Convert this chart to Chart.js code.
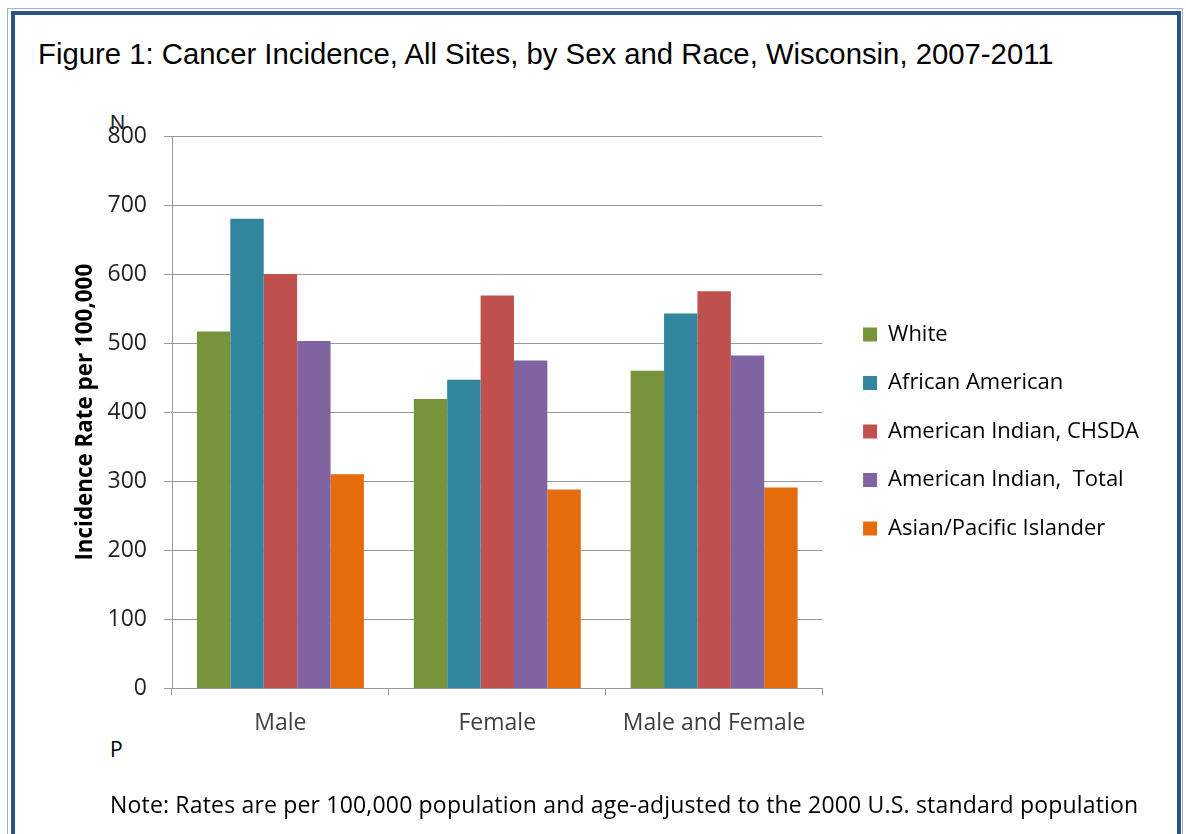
<!DOCTYPE html>
<html>
<head>
<meta charset="utf-8">
<title>Cancer Incidence, Wisconsin</title>
<script src="https://cdn.jsdelivr.net/npm/chart.js@4.4.1/dist/chart.umd.min.js"></script>
<style>
  html, body { margin: 0; padding: 0; background: #fff; }
  #page { position: relative; width: 1186px; height: 834px; overflow: hidden; }
  #outer { position: absolute; left: 7px; top: 8px; width: 1176px; height: 900px; border: 1px solid #9fb3cc; box-sizing: border-box; }
  #frame { position: absolute; left: 11px; top: 11px; width: 1170px; height: 900px; border: 4px solid #2b5283; box-sizing: border-box; }
  #title { position: absolute; left: 38px; top: 37px; font-family: "Liberation Sans", Arial, sans-serif; font-size: 29.3px; color: #000; white-space: nowrap; }
  #markN { position: absolute; left: 110px; top: 110px; font-family: "Liberation Sans", Arial, sans-serif; font-size: 21px; color: #222; }
  #markP { position: absolute; left: 110px; top: 735px; font-family: "Open Sans", sans-serif; font-size: 21px; color: #000; }
  #note { position: absolute; left: 110px; top: 788px; font-family: "Open Sans", sans-serif; font-size: 23px; letter-spacing: 0.18px; color: #000; white-space: nowrap; }
  #chartCanvas { position: absolute; left: 0; top: 0; }
</style>
</head>
<body>
<div id="page">
  <div id="outer"></div>
  <div id="frame"></div>
  <div id="title">Figure 1: Cancer Incidence, All Sites, by Sex and Race, Wisconsin, 2007-2011</div>
  <div id="markN">N</div>
  <div id="markP">P</div>
  <canvas id="chartCanvas" width="1186" height="834"></canvas>
  <div id="note">Note: Rates are per 100,000 population and age-adjusted to the 2000 U.S. standard population</div>
</div>
<script>
/******************************************************************
DATA
******************************************************************/

var categories = ["Male", "Female", "Male and Female"];

var white = [517, 419, 460];
var africanAmerican = [680, 447, 543];
var amIndianChsda = [600, 569, 575];
var amIndianTotal = [503, 475, 482];
var asianPacific = [310, 288, 291];

var seriesNames = ["White", "African American", "American Indian, CHSDA", "American Indian,  Total", "Asian/Pacific Islander"];
var seriesColors = ["#77933C", "#31859C", "#C0504D", "#8064A2", "#E46C0A"];

var yTicks = [0, 100, 200, 300, 400, 500, 600, 700, 800];
var yTitle = "Incidence Rate per 100,000";

/******************************************************************
CHART
******************************************************************/

// nudge the legend a bit right/up, where the original sits
var legendNudge = {
  id: 'legendNudge',
  afterLayout: function (chart) {
    var lg = chart.legend;
    var dx = 14, dy = -12;
    lg.left += dx; lg.right += dx;
    lg.top += dy; lg.bottom += dy;
  }
};

var allSeries = [white, africanAmerican, amIndianChsda, amIndianTotal, asianPacific];
var datasets = allSeries.map(function (values, i) {
  return {
    label: seriesNames[i],
    data: values,
    backgroundColor: seriesColors[i],
    borderWidth: 0,
    barPercentage: 1,
    categoryPercentage: 0.77
  };
});

var ctx = document.getElementById('chartCanvas').getContext('2d');
var chart = new Chart(ctx, {
  type: 'bar',
  data: {
    labels: categories,
    datasets: datasets
  },
  options: {
    responsive: false,
    animation: false,
    layout: {
      padding: { left: 72, top: 136, right: 51, bottom: 83 }
    },
    plugins: {
      legend: {
        position: 'right',
        align: 'center',
        maxWidth: 330,
        labels: {
          boxWidth: 14,
          boxHeight: 14,
          padding: 26.5,
          color: '#000',
          font: { family: 'Open Sans', size: 22 }
        }
      },
      tooltip: { enabled: false }
    },
    scales: {
      x: {
        grid: {
          offset: true,
          drawOnChartArea: false,
          drawTicks: true,
          tickLength: 7,
          color: '#999'
        },
        border: { color: '#999' },
        ticks: {
          color: '#404040',
          padding: 14,
          font: { family: 'Open Sans', size: 23 }
        }
      },
      y: {
        min: 0,
        max: 800,
        afterBuildTicks: function (scale) {
          scale.ticks = yTicks.map(function (v) { return { value: v }; });
        },
        afterFit: function (scale) {
          scale.width = 100;
        },
        grid: {
          color: '#999',
          tickLength: 8
        },
        border: { color: '#999' },
        ticks: {
          color: '#222',
          padding: 17,
          font: { family: 'Open Sans', size: 23 }
        },
        title: {
          display: true,
          text: yTitle,
          color: '#000',
          padding: 0,
          font: { family: 'Open Sans', size: 22.4, weight: 'bold' }
        }
      }
    }
  },
  plugins: [legendNudge]
});
</script>
</body>
</html>
